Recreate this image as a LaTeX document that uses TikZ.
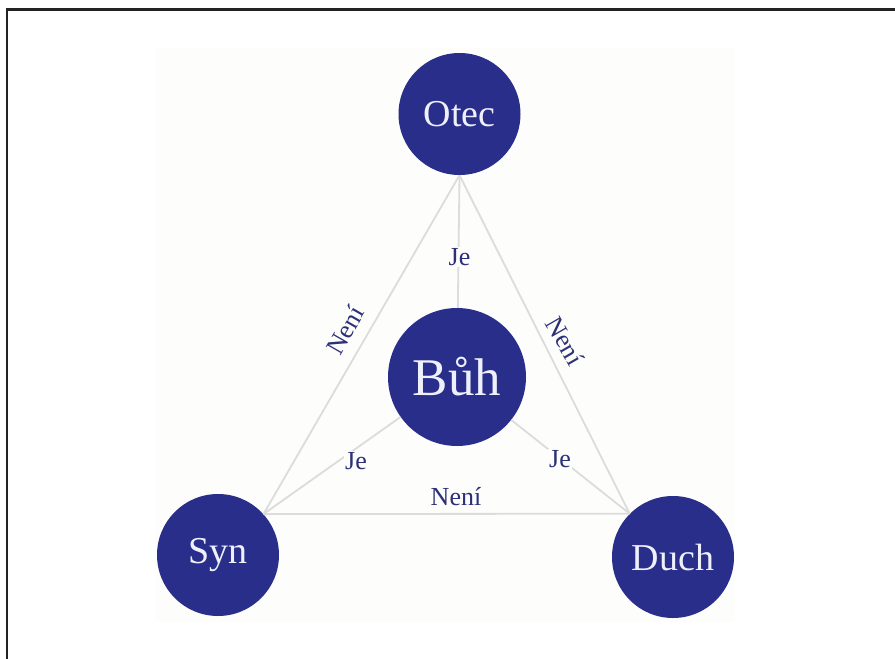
\documentclass[tikz,border=0pt]{standalone}
\usepackage{fontspec}
\setmainfont{Liberation Serif}
\definecolor{navy}{RGB}{40,46,138}
\definecolor{labelc}{RGB}{44,48,120}
\definecolor{linec}{RGB}{220,220,220}
\definecolor{textc}{RGB}{238,240,252}
\definecolor{framec}{RGB}{35,35,35}
\definecolor{panelc}{RGB}{253,253,251}
\begin{document}
\begin{tikzpicture}[x=1pt,y=-1pt,
  person/.style={circle,fill=navy,text=textc,inner sep=0pt,minimum size=122pt,font=\fontsize{38}{42}\selectfont},
  god/.style={circle,fill=navy,text=textc,inner sep=0pt,minimum size=138pt,font=\fontsize{53}{58}\selectfont},
  rel/.style={draw=linec,line width=1.8pt},
  lbl/.style={text=labelc,inner sep=1pt,font=\fontsize{26}{28}\selectfont}]
\useasboundingbox (0,0) rectangle (895,659);
\fill[white] (0,0) rectangle (895,659);
\fill[panelc] (155,48) rectangle (735,622);
\draw[framec,line width=2.5pt] (7,659) -- (7,9.5) -- (895,9.5);
\node[person] (otec) at (459.5,114) {Otec};
\node[god] (buh) at (457,377) {Bůh};
\node[person] (syn) at (218,555) {Syn};
\node[person] (duch) at (673,557) {Duch};
\coordinate (vt) at (otec.south);
\coordinate (vl) at (syn.42);
\coordinate (vr) at (duch.135);
\draw[rel] (vt) -- (vl);
\draw[rel] (vt) -- (vr);
\draw[rel] (vl) -- (vr);
\draw[rel] (vt) -- (buh);
\draw[rel] (vl) -- (buh);
\draw[rel] (vr) -- (buh);
\node[lbl,fill=panelc] (je1) at (459.5,257) {Je};
\node[lbl,fill=panelc] (je2) at (356,461) {Je};
\node[lbl,fill=panelc] (je3) at (560,459) {Je};
\node[lbl,rotate=60] (n1) at (345,330) {Není};
\node[lbl,rotate=-60] (n2) at (565,341) {Není};
\node[lbl] (n3) at (456,497) {Není};
\end{tikzpicture}
\end{document}
